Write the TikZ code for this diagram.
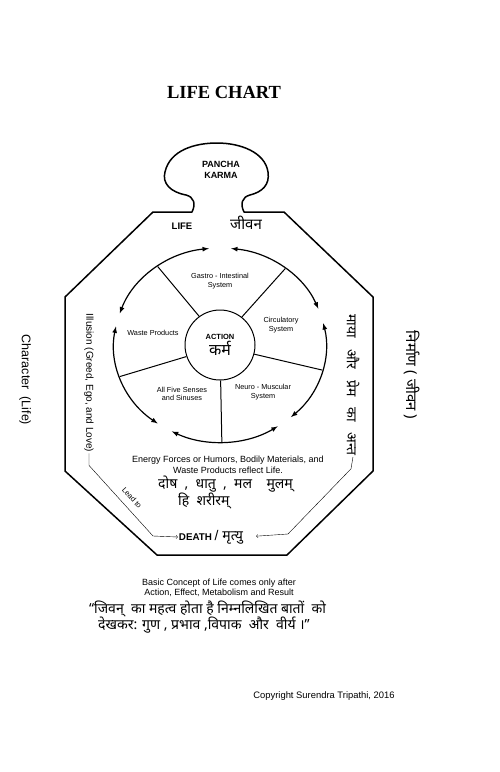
\documentclass[tikz,border=0pt]{standalone}
\usepackage{fontspec}
\setmainfont{Liberation Sans}
\newfontfamily\titlefont{Liberation Serif}
\newfontfamily\hindi[Script=Devanagari]{Noto Sans}
\usepackage{tikz}
\usetikzlibrary{calc, positioning}

\tikzset{
  wheeltext/.style={font=\fontsize{7.3}{8.3}\selectfont, align=center, inner sep=1pt},
  capslabel/.style={font=\bfseries\fontsize{9}{10.5}\selectfont, align=center, inner sep=1pt},
  hinditext/.style={font=\hindi\fontsize{14}{16}\selectfont, inner sep=1pt},
  bodytext/.style={font=\fontsize{9}{10.5}\selectfont, align=center, inner sep=1pt},
  sidetext/.style={rotate=-90, inner sep=1pt}
}

\begin{document}
\begin{tikzpicture}[>=latex, x=1pt, y=1pt, line join=round]
    \useasboundingbox (0,0) rectangle (500,-772);

    % 1. Tiêu đề
    \node[font=\titlefont\bfseries\fontsize{18.5}{20}\selectfont] (title) at (224,-92) {LIFE CHART};

    % 2. Khung bát giác với phần đầu PANCHA KARMA
    \draw[line width=1.5pt] (153,-212) -- (192,-212)
        .. controls (196,-204) and (194,-197) .. (186,-195)
        .. controls (170,-192) and (162,-183) .. (165,-172)
        .. controls (170,-150) and (195,-143) .. (217,-143)
        .. controls (240,-143) and (265,-152) .. (268,-172)
        .. controls (270,-185) and (262,-192) .. (250,-195)
        .. controls (242,-197) and (240,-204) .. (244,-212)
        -- (284,-212) -- (373,-297) -- (373,-471) -- (287,-555)
        -- (157,-555) -- (65,-471) -- (65,-297) -- cycle;
    \node[capslabel] (pancha) at (221,-170) {PANCHA\\KARMA};
    \node[capslabel, font=\bfseries\fontsize{9.5}{11}\selectfont] (life) at (182,-226) {LIFE};
    \node[hinditext, font=\hindi\fontsize{15}{17}\selectfont] (jeevan) at (246,-223) {जीवन};

    % 3. Bánh xe: vòng trong, các nan và các cung có mũi tên
    \coordinate (hub) at (220,-345);
    \node[draw, circle, line width=1pt, minimum size=70pt, inner sep=0pt, align=center] (action) at (hub)
        {\bfseries\fontsize{7.5}{8.5}\selectfont ACTION\\[1pt]{\hindi\fontsize{16}{17}\selectfont कर्म}};
    \foreach \a in {126,52,-15,-89,199}
        \draw[line width=1pt] (action.\a) -- ($(hub)+(\a:106 and 97)$);
    \foreach \s/\e in {22/84, 96/161, 169/234, 243/303, 312/373}
        \draw[<->, line width=1.2pt] ($(hub)+(\s:106 and 97)$)
            arc[start angle=\s, end angle=\e, x radius=106, y radius=97];

    \node[wheeltext] (gastro) at (220,-281) {Gastro - Intestinal\\System};
    \node[wheeltext] (circ) at (281,-325) {Circulatory\\System};
    \node[wheeltext] (neuro) at (263,-392) {Neuro - Muscular\\System};
    \node[wheeltext] (senses) at (182,-394) {All Five Senses\\and Sinuses};
    \node[wheeltext] (waste) at (153,-333) {Waste Products};

    % 4. Dòng chữ dưới bánh xe
    \node[bodytext] (energy) at (228,-465) {Energy Forces or Humors, Bodily Materials, and\\Waste Products reflect Life.};
    \node[hinditext, anchor=west] (dosha) at (157,-484) {दोष~ ,~ धातु~ ,~ मल~~~ मुलम्};
    \node[hinditext, anchor=west] (shariram) at (177,-501) {हि~ शरीरम्};

    % 5. Chữ dọc hai bên
    \node[sidetext, font=\fontsize{10}{12}\selectfont] (illusion) at (89,-383) {Illusion (Greed, Ego, and Love)};
    \node[sidetext, hinditext] (maya) at (353,-385) {माया~~ और~~ प्रेम~~ का~~ अन्त};
    \node[sidetext, font=\fontsize{12.5}{14}\selectfont] (character) at (25,-380) {Character~~(Life)};
    \node[sidetext, hinditext, font=\hindi\fontsize{15}{17}\selectfont] (nirman) at (412,-375) {निर्माण ( जीवन )};

    % 6. DEATH và các đường dẫn tới
    \node[inner sep=1pt] (death) at (211,-537)
        {\bfseries\fontsize{9.8}{11}\selectfont DEATH \normalfont\fontsize{14}{15}\selectfont/ {\hindi\fontsize{14}{15}\selectfont मृत्यु}};
    \draw[-to] (illusion.east) -- ++(0,-12) -- (153,-536) -- (death.west);
    \draw[-to, shorten >=12pt] (maya.east) -- ++(-2,-12) -- (288,-534) -- (death.east);
    \node[rotate=-48, font=\fontsize{7.5}{8.5}\selectfont, inner sep=1pt] (leadto) at (132,-498) {Lead to};

    % 7. Ghi chú phía dưới
    \node[bodytext] (basic) at (219,-588) {Basic Concept of Life comes only after\\Action, Effect, Metabolism and Result};
    \node[hinditext, anchor=west] (quoteA) at (88,-609) {“जिवन्~ का महत्व होता है निम्नलिखित बातों~ को};
    \node[hinditext, anchor=west] (quoteB) at (97,-625) {देखकर: गुण , प्रभाव ,विपाक~ और~ वीर्य ।”};
    \node[font=\fontsize{9.4}{11}\selectfont, inner sep=1pt] (copyright) at (324,-696) {Copyright Surendra Tripathi, 2016};
\end{tikzpicture}
\end{document}
